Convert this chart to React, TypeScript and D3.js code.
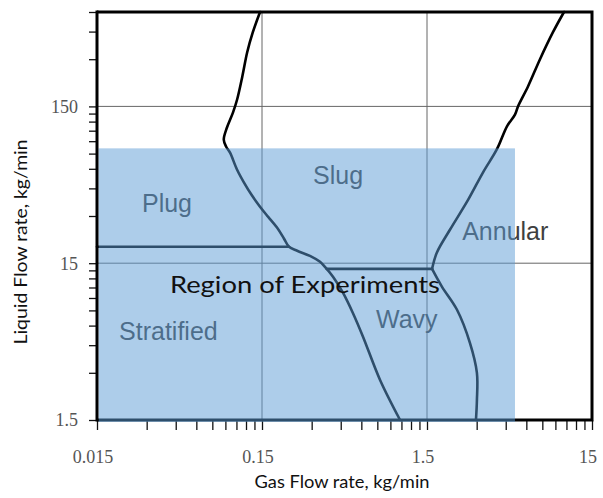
import { useEffect, useRef } from 'react'
import * as d3 from 'd3'

type Pt = [number, number]

// flow regime boundaries, [gas kg/min, liquid kg/min]
const slugBoundary: Pt[] = [
  [0.146, 600], [0.132, 446], [0.122, 332], [0.114, 233], [0.106, 166],
  [0.1, 137], [0.092, 110], [0.088, 92], [0.091, 83], [0.096, 76],
  [0.1058, 59.4], [0.1167, 49.0], [0.1305, 40.5], [0.1459, 34.4], [0.1631, 29.7],
  [0.1849, 25.3], [0.204, 21.5], [0.2186, 19.1], [0.245, 18.0], [0.293, 16.7],
  [0.337, 15.3], [0.361, 14.2], [0.404, 12.3], [0.465, 9.7], [0.534, 7.2],
  [0.614, 5.1], [0.779, 2.7], [1.03, 1.5],
]
const annularBoundary: Pt[] = [
  [10.15, 600], [8.7, 446], [7.26, 300], [6.14, 201], [5.34, 150],
  [5.12, 133], [4.58, 112], [3.98, 80], [3.28, 57], [2.66, 38],
  [2.07, 24.6], [1.72, 17.5], [1.61, 13.8],
]
const wavyBoundary: Pt[] = [
  [1.61, 13.8], [1.85, 10.6], [2.28, 7.57], [2.73, 4.66], [3.01, 3.0],
  [3.01, 2.0], [2.97, 1.5],
]
const plugStratified: Pt[] = [[0.015, 19.1], [0.2186, 19.1]]
const wavyTop: Pt[] = [[0.37, 13.8], [1.61, 13.8]]

const regimeNames = ['Plug', 'Slug', 'Annular', 'Wavy', 'Stratified']
const regimeGas = [0.0281, 0.306, 2.45, 0.736, 0.0204]
const regimeLiquid = [32, 48.3, 21.2, 5.81, 4.87]

// experiment window
const regionGas = [0.015, 5.12]
const regionLiquid = [1.5, 81]

const gasMajor = [0.015, 0.15, 1.5, 15]
const liquidMajor = [1.5, 15, 150]
const gasLabels = ['0.015', '0.15', '1.5', '15']
const liquidLabels = ['1.5', '15', '150']
const multiples = [1, 2, 3, 4, 5, 6, 7, 8, 9]

export default function App() {
  const svgRef = useRef<SVGSVGElement>(null)

  useEffect(() => {
    if (!svgRef.current) return
    const width = 603
    const height = 498
    const svg = d3.select(svgRef.current)
    svg.selectAll('*').remove()
    svg.attr('width', width).attr('height', height)

    const left = 97, right = 592, top = 12, bottom = 420

    const x = d3.scaleLog().domain([0.015, 15]).range([left, right])
    const y = d3.scaleLog().domain([1.5, 600]).range([bottom, top])

    svg.append('rect').attr('width', width).attr('height', height).attr('fill', '#fff')

    // grid
    const grid = svg.append('g').attr('stroke', '#666').attr('stroke-width', 1)
    grid.selectAll('.gx').data([0.15, 1.5]).enter().append('line')
      .attr('x1', d => x(d)).attr('x2', d => x(d)).attr('y1', top).attr('y2', bottom)
    grid.selectAll('.gy').data([15, 150]).enter().append('line')
      .attr('y1', d => y(d)).attr('y2', d => y(d)).attr('x1', left).attr('x2', right)

    // ticks
    const gasTicks = gasMajor.slice(0, 3).flatMap(b => multiples.map(k => b * k)).concat([15])
    const liquidTicks = liquidMajor.flatMap(b => multiples.map(k => b * k)).filter(v => v <= 600.01)

    const xAxis = svg.append('g')
      .attr('transform', `translate(0,${bottom})`)
      .call(d3.axisBottom(x).tickValues(gasTicks).tickSize(10).tickFormat(() => ''))
    xAxis.select('.domain').remove()
    xAxis.selectAll('line').attr('stroke', '#111').attr('stroke-width', 1.3)

    const yAxis = svg.append('g')
      .attr('transform', `translate(${left},0)`)
      .call(d3.axisLeft(y).tickValues(liquidTicks).tickSize(8).tickFormat(() => ''))
    yAxis.select('.domain').remove()
    yAxis.selectAll('line').attr('stroke', '#111').attr('stroke-width', 1.3)

    svg.selectAll('.xl').data(gasMajor).enter().append('text')
      .attr('x', d => x(d) - 4)
      .attr('y', 463)
      .attr('text-anchor', 'middle')
      .style('font-family', '"Liberation Serif", serif')
      .style('font-size', '18px')
      .style('fill', '#555')
      .text((d, i) => gasLabels[i])

    svg.selectAll('.yl').data(liquidMajor).enter().append('text')
      .attr('x', 78)
      .attr('y', d => y(d))
      .attr('dy', '0.35em')
      .attr('text-anchor', 'end')
      .style('font-family', '"Liberation Serif", serif')
      .style('font-size', '18px')
      .style('fill', '#555')
      .text((d, i) => liquidLabels[i])

    // frame (top, right, bottom)
    svg.append('path')
      .attr('d', `M${left},${top}H${right}V${bottom}H${left}`)
      .attr('fill', 'none').attr('stroke', '#000').attr('stroke-width', 3)

    // regime boundaries
    const smooth = d3.line<Pt>().x(d => x(d[0])).y(d => y(d[1])).curve(d3.curveCatmullRom.alpha(0.5))
    const straight = d3.line<Pt>().x(d => x(d[0])).y(d => y(d[1]))
    const lines = svg.append('g').attr('fill', 'none').attr('stroke', '#000')
      .attr('stroke-width', 2.6).attr('stroke-linejoin', 'round').attr('stroke-linecap', 'round')
    ;[slugBoundary, annularBoundary, wavyBoundary].forEach(p => {
      lines.append('path').attr('d', smooth(p))
    })
    ;[plugStratified, wavyTop].forEach(p => {
      lines.append('path').attr('d', straight(p))
    })

    svg.selectAll('.regime').data(regimeNames).enter().append('text')
      .attr('x', (d, i) => x(regimeGas[i]))
      .attr('y', (d, i) => y(regimeLiquid[i]))
      .style('font-family', '"Liberation Sans", Arial, sans-serif')
      .style('font-size', '25px')
      .style('fill', '#3f3f3f')
      .text(d => d)

    // shaded experiment window
    svg.append('rect')
      .attr('x', x(regionGas[0]) + 1.5)
      .attr('y', y(regionLiquid[1]))
      .attr('width', x(regionGas[1]) - x(regionGas[0]) - 1.5)
      .attr('height', y(regionLiquid[0]) - y(regionLiquid[1]) + 2)
      .attr('fill', '#5b9bd5')
      .attr('fill-opacity', 0.5)

    svg.append('line')
      .attr('x1', left).attr('x2', left).attr('y1', top - 1.5).attr('y2', bottom + 1.5)
      .attr('stroke', '#000').attr('stroke-width', 3)

    svg.append('text')
      .attr('x', x(0.0415))
      .attr('y', y(9.72))
      .attr('textLength', 270)
      .attr('lengthAdjust', 'spacingAndGlyphs')
      .style('font-family', 'Lato, sans-serif')
      .style('font-size', '23px')
      .style('fill', '#111')
      .text('Region of Experiments')

    // axis titles
    svg.append('text')
      .attr('x', 342)
      .attr('y', 488)
      .attr('text-anchor', 'middle')
      .attr('textLength', 175)
      .attr('lengthAdjust', 'spacingAndGlyphs')
      .style('font-family', 'Lato, sans-serif')
      .style('font-size', '17px')
      .style('fill', '#111')
      .text('Gas Flow rate, kg/min')

    svg.append('text')
      .attr('transform', 'translate(27,242) rotate(-90)')
      .attr('text-anchor', 'middle')
      .attr('textLength', 205)
      .attr('lengthAdjust', 'spacingAndGlyphs')
      .style('font-family', 'Lato, sans-serif')
      .style('font-size', '17px')
      .style('fill', '#111')
      .text('Liquid Flow rate, kg/min')
  }, [])

  return (
    <svg
      ref={svgRef}
      style={{ position: 'absolute', left: 0, top: 0, display: 'block' }}
    />
  )
}
